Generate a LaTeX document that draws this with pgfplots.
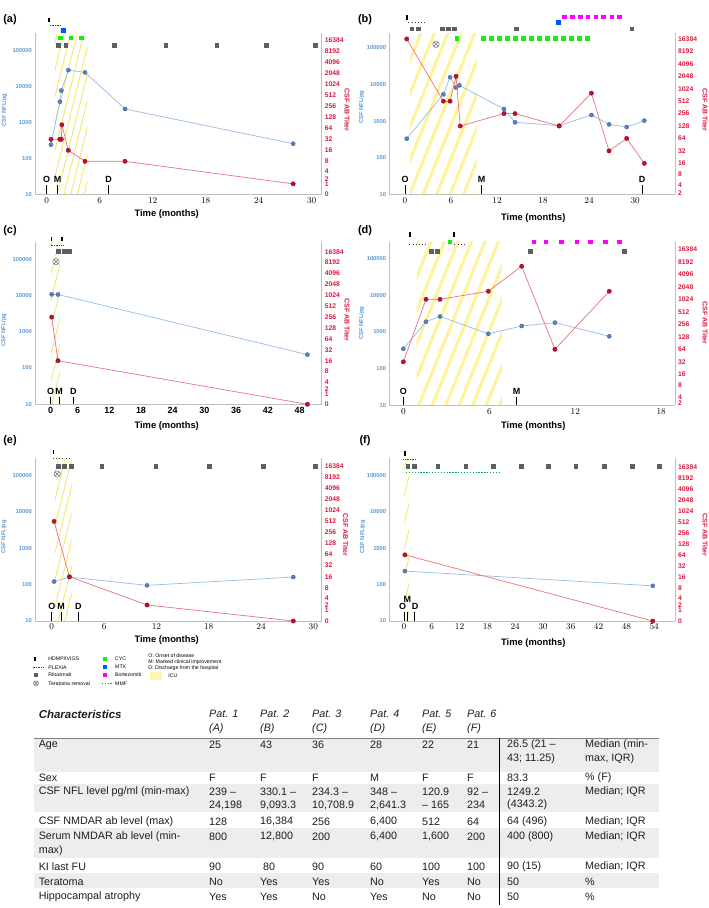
\documentclass[border=0pt]{standalone}
\usepackage{pgfplots}
\pgfplotsset{compat=1.18}
\usepackage{pgfplotstable}
\usepackage{fontspec}
\setmainfont{Liberation Sans}
\setsansfont{Liberation Sans}
\usetikzlibrary{patterns.meta}

\definecolor{nflblue}{HTML}{5B9BD5}
\definecolor{titred}{HTML}{E0193F}
\definecolor{blueline}{HTML}{95BDE4}
\definecolor{bluemark}{HTML}{5A80BE}
\definecolor{bluemarkedge}{HTML}{3B5E9A}
\definecolor{redline}{HTML}{E8727E}
\definecolor{redmark}{HTML}{C01030}
\definecolor{redmarkedge}{HTML}{85091F}
\definecolor{axgray}{HTML}{BFBFBF}
\definecolor{ritgray}{HTML}{5F5F5F}
\definecolor{cycgreen}{HTML}{11EE11}
\definecolor{mtxblue}{HTML}{0055FF}
\definecolor{bortmag}{HTML}{FF00FF}
\definecolor{mmfgreen}{HTML}{00A650}
\definecolor{plexgray}{HTML}{404040}
\definecolor{teragray}{HTML}{707070}
\definecolor{icuthinY}{HTML}{F2E34A}
\definecolor{icuthickY}{HTML}{FFF39A}
\definecolor{icuboxY}{HTML}{FFF4B0}
\definecolor{tabgray}{HTML}{EDEDED}
\definecolor{tabtext}{HTML}{1E1E1E}

\newcommand\fs[1]{\fontsize{#1}{#1}\selectfont}

\pgfplotsset{
 mybase/.style={scale only axis, clip=false, anchor=south west, major tick length=0pt, minor tick length=0pt},
 myov/.style={hide axis, y dir=reverse},
 mynfl/.style={ymin=10, axis x line*=bottom, axis y line*=left, axis line style={draw=axgray, line width=0.7bp, -},
   ytick={10,100,1000,10000,100000}, yticklabels={10,100,1000,10000,100000},
   yticklabel style={font=\fs{5.8}\bfseries, text=nflblue, inner sep=0pt, xshift=-3bp},
   xticklabel style={font=\fs{9}\bfseries, inner sep=0pt, yshift=-3bp}},
 mytit/.style={axis x line=none, axis y line*=right, axis line style={draw=axgray, line width=0.7bp, -},
   yticklabel style={font=\fs{6.8}\bfseries, text=titred, inner sep=0pt, xshift=3bp}},
 rtz/.style={ytick={0,0.95,1.42,2.07,3,4,5,6,7,8,9,10,11,12,13,14}, yticklabels={0,1,2,4,8,16,32,64,128,256,512,1024,2048,4096,8192,16384}},
 rtb/.style={ytick={1.64,2.26,3.14,4,5,6,7,8,9,10,11,12,13,14}, yticklabels={2,4,8,16,32,64,128,256,512,1024,2048,4096,8192,16384}},
 rtd/.style={ytick={1.68,2.21,3.15,4,5,6,7,8,9,10,11,12,13,14}, yticklabels={2,4,8,16,32,64,128,256,512,1024,2048,4096,8192,16384}},
 nflplot/.style={blueline, line width=0.7bp, mark=*, mark size=2.1bp, mark options={fill=bluemark, draw=bluemarkedge, line width=0.3bp}},
 titplot/.style={redline, line width=0.7bp, mark=*, mark size=2.2bp, mark options={fill=redmark, draw=redmarkedge, line width=0.3bp}},
 hdmp/.style={only marks, mark=|, mark size=2.2bp, mark options={line width=1.6bp, draw=black}},
 ritu/.style={only marks, mark=square*, mark size=1.9bp, mark options={fill=ritgray, draw=ritgray}},
 cyc/.style={only marks, mark=square*, mark size=1.9bp, mark options={fill=cycgreen, draw=cycgreen}},
 mtx/.style={only marks, mark=square*, mark size=1.9bp, mark options={fill=mtxblue, draw=mtxblue}},
 bort/.style={only marks, mark=square*, mark size=1.9bp, mark options={fill=bortmag, draw=bortmag}},
 plex/.style={no marks, line width=1bp, draw=plexgray, dash pattern=on 0.8bp off 0.9bp},
 plexs/.style={no marks, line width=1bp, draw=plexgray, dash pattern=on 1bp off 2.2bp},
 mmf/.style={no marks, line width=1.3bp, draw=mmfgreen, dash pattern=on 1.3bp off 1.6bp},
 tera/.style={only marks, mark=otimes*, mark size=3.2bp, mark options={fill=white, draw=teragray, line width=0.5bp}},
 omd/.style={no marks, black, line width=0.8bp},
 icuthin/.style={draw=none, pattern={Lines[angle=76,distance=6.5bp,line width=0.7bp]}, pattern color=icuthinY},
 icuthick/.style={draw=none, pattern={Lines[angle=68,distance=12.5bp,line width=3bp]}, pattern color=icuthickY},
 pa/.style={at={(35bp,-194.3bp)}, width=286.7bp, height=161bp, xmin=-1.32, xmax=31.13},
 pb/.style={at={(389.3bp,-194.3bp)}, width=285.7bp, height=161bp, xmin=-2.05, xmax=35.2},
 pc/.style={at={(35bp,-404.3bp)}, width=286.7bp, height=162.6bp, xmin=-2.06, xmax=52.2},
 pd/.style={at={(389.3bp,-405.3bp)}, width=285.7bp, height=163.6bp, xmin=-0.98, xmax=18.96},
 pe/.style={at={(35bp,-621bp)}, width=286.7bp, height=162.7bp, xmin=-1.92, xmax=30.96},
 pf/.style={at={(389.3bp,-621bp)}, width=285.7bp, height=162.7bp, xmin=-3.17, xmax=58.5},
}
\tikzset{omdtxt/.style={font=\fs{9}\bfseries, inner sep=0pt}}

% ---------------- data ----------------
\pgfplotstableread{
m v
0.49 239
1.50 3730
1.66 7560
2.45 28000
4.34 24198
8.87 2340
27.9 254
}\nflA
\pgfplotstableread{
m t
0.49 32
1.50 32
1.66 32
1.72 80
2.45 16
4.34 8
8.87 8
27.9 1
}\titA
\pgfplotstableread{
m v
0.22 330
5.00 5400
5.87 15800
6.65 8200
7.08 9500
12.9 2140
14.34 930
20.1 750
24.3 1470
26.6 815
28.9 690
31.2 1030
}\nflB
\pgfplotstableread{
m t
0.22 16384
5.00 512
5.87 512
6.65 2048
7.20 128
12.9 256
14.34 256
20.1 128
24.3 800
26.6 32
28.9 64
31.2 16
}\titB
\pgfplotstableread{
m v
1.1 10708.9
2.29 10600
49.5 234
}\nflC
\pgfplotstableread{
m t
1.1 256
2.29 16
49.5 0
}\titC
\pgfplotstableread{
m v
0 348
1.58 1900
2.56 2641
5.93 890
8.26 1450
10.58 1790
14.37 760
}\nflD
\pgfplotstableread{
m t
0 32
1.58 1024
2.56 1024
5.93 1600
8.26 6400
10.58 64
14.37 1600
}\titD
\pgfplotstableread{
m v
0.27 121
2.03 160
10.93 95
27.7 160
}\nflE
\pgfplotstableread{
m t
0.27 512
2.03 16
10.93 2
27.7 0
}\titE
\pgfplotstableread{
m v
0.2 234
53.7 92
}\nflF
\pgfplotstableread{
m t
0.2 64
53.7 0
}\titF

\begin{document}
\begin{tikzpicture}
\useasboundingbox (0,0) rectangle (709bp,-908bp);
\fill[white] (0,0) rectangle (709bp,-908bp);

% ================= PANEL A =================
\begin{axis}[mybase,myov,pa,ymin=33.3,ymax=194.3]
\addplot[icuthin] coordinates {(0.94,33.3) (4.6,33.3) (4.6,194.3) (0.94,194.3)} --cycle;
\addplot[hdmp] coordinates {(0.26,20)};
\addplot[plex] coordinates {(0.37,25.7) (1.58,25.7)};
\addplot[mtx] coordinates {(1.88,30)};
\addplot[cyc] coordinates {(1.51,37.7) (2.72,37.7) (3.88,37.7)};
\addplot[ritu] coordinates {(1.31,45.3) (2.15,45.3) (7.62,45.3) (13.48,45.3) (19.25,45.3) (24.84,45.3) (30.42,45.3)};
\addplot[omd] coordinates {(0,185) (0,194.3)};
\addplot[omd] coordinates {(1.25,185) (1.25,194.3)};
\addplot[omd] coordinates {(7,185) (7,194.3)};
\node[omdtxt] at (axis cs:0,179) {O};
\node[omdtxt] at (axis cs:1.25,179) {M};
\node[omdtxt] at (axis cs:7,179) {D};
\end{axis}
\begin{axis}[mybase,ymode=log,mynfl,pa,ymax=295000,xtick={0,6,...,30}]
\addplot[nflplot] table[x=m,y=v] {\nflA};
\end{axis}
\begin{axis}[mybase,mytit,pa,rtz,ymin=0,ymax=14.64]
\addplot[titplot] table[x=m,y expr={\thisrow{t}<0.5 ? 0 : (\thisrow{t}<3 ? 0.45+0.5*\thisrow{t} : ln(max(\thisrow{t},1))/ln(2))}] {\titA};
\end{axis}

% ================= PANEL B =================
\begin{axis}[mybase,myov,pb,ymin=33.3,ymax=194.3]
\addplot[icuthick] coordinates {(0.65,33.3) (9.35,33.3) (9.35,194.3) (0.65,194.3)} --cycle;
\addplot[hdmp] coordinates {(0.22,17.3)};
\addplot[plexs] coordinates {(0.43,22.3) (2.91,22.3)};
\addplot[ritu] coordinates {(0.87,28.7) (1.73,28.7) (4.86,28.7) (5.65,28.7) (6.43,28.7) (14.47,28.7) (29.56,28.7)};
\addplot[mtx] coordinates {(19.99,22.3)};
\addplot[bort] coordinates {(20.77,16.7) (21.81,16.7) (22.82,16.7) (23.82,16.7) (24.86,16.7) (25.85,16.7) (26.95,16.7) (27.94,16.7)};
\addplot[cyc] coordinates {(6.74,38.3) (10.21,38.3) (11.25,38.3) (12.29,38.3) (13.34,38.3) (14.38,38.3) (15.42,38.3) (16.47,38.3) (17.51,38.3) (18.55,38.3) (19.6,38.3) (20.64,38.3) (21.68,38.3) (22.72,38.3) (23.77,38.3)};
\addplot[tera] coordinates {(4.04,44.3)};
\addplot[omd] coordinates {(0,185) (0,194.3)};
\addplot[omd] coordinates {(10,185) (10,194.3)};
\addplot[omd] coordinates {(30.9,185) (30.9,194.3)};
\node[omdtxt] at (axis cs:0,179) {O};
\node[omdtxt] at (axis cs:10,179) {M};
\node[omdtxt] at (axis cs:30.9,179) {D};
\end{axis}
\begin{axis}[mybase,ymode=log,mynfl,pb,ymax=251000,xtick={0,6,...,30}]
\addplot[nflplot] table[x=m,y=v] {\nflB};
\end{axis}
\begin{axis}[mybase,mytit,pb,rtb,ymin=1.51,ymax=14.46]
\addplot[titplot] table[x=m,y expr={\thisrow{t}<0.5 ? 0 : (\thisrow{t}<3 ? 0.45+0.5*\thisrow{t} : ln(max(\thisrow{t},1))/ln(2))}] {\titB};
\end{axis}

% ================= PANEL C =================
\begin{axis}[mybase,myov,pc,ymin=241.7,ymax=404.3]
\addplot[icuthin] coordinates {(0.97,241.7) (2.67,241.7) (2.67,404.3) (0.97,404.3)} --cycle;
\addplot[hdmp] coordinates {(1.1,239) (3.1,239)};
\addplot[plex] coordinates {(0.9,245) (3.3,245)};
\addplot[ritu] coordinates {(2.35,251) (3.43,251) (4.43,251)};
\addplot[tera] coordinates {(1.91,261.7)};
\addplot[omd] coordinates {(0.9,396.7) (0.9,404.3)};
\addplot[omd] coordinates {(2.48,396.7) (2.48,404.3)};
\addplot[omd] coordinates {(5.19,396.7) (5.19,404.3)};
\node[omdtxt] at (axis cs:0.9,391.7) {O};
\node[omdtxt] at (axis cs:2.48,391.7) {M};
\node[omdtxt] at (axis cs:5.19,391.7) {D};
\end{axis}
\begin{axis}[mybase,ymode=log,mynfl,pc,ymax=302000,xtick={0.9,6,12,18,24,30,36,42,48},xticklabels={0,6,12,18,24,30,36,42,48}]
\addplot[nflplot] table[x=m,y=v] {\nflC};
\end{axis}
\begin{axis}[mybase,mytit,pc,rtz,ymin=0,ymax=14.92]
\addplot[titplot] table[x=m,y expr={\thisrow{t}<0.5 ? 0 : (\thisrow{t}<3 ? 0.45+0.5*\thisrow{t} : ln(max(\thisrow{t},1))/ln(2))}] {\titC};
\end{axis}

% ================= PANEL D =================
\begin{axis}[mybase,myov,pd,ymin=241.7,ymax=405.3]
\addplot[icuthick] coordinates {(0.93,241.7) (6.87,241.7) (6.87,405.3) (0.93,405.3)} --cycle;
\addplot[hdmp] coordinates {(0.47,234.5) (3.52,234.5)};
\addplot[plexs] coordinates {(0.42,244) (1.74,244)};
\addplot[plexs] coordinates {(3.56,244) (4.45,244)};
\addplot[cyc] coordinates {(3.24,241.7)};
\addplot[ritu] coordinates {(1.95,251) (2.39,251) (8.88,251) (15.4,251)};
\addplot[bort] coordinates {(9.1,241.7) (9.94,241.7) (11.03,241.7) (12.1,241.7) (13.03,241.7) (14.08,241.7) (15.07,241.7)};
\addplot[omd] coordinates {(0,396.7) (0,405.3)};
\addplot[omd] coordinates {(7.9,396.7) (7.9,405.3)};
\node[omdtxt] at (axis cs:0,391.7) {O};
\node[omdtxt] at (axis cs:7.9,391.7) {M};
\end{axis}
\begin{axis}[mybase,ymode=log,mynfl,pd,ymax=288000,xtick={0,6,...,18}]
\addplot[nflplot] table[x=m,y=v] {\nflD};
\end{axis}
\begin{axis}[mybase,mytit,pd,rtd,ymin=1.52,ymax=14.61]
\addplot[titplot] table[x=m,y expr={\thisrow{t}<0.5 ? 0 : (\thisrow{t}<3 ? 0.45+0.5*\thisrow{t} : ln(max(\thisrow{t},1))/ln(2))}] {\titD};
\end{axis}

% ================= PANEL E =================
\begin{axis}[mybase,myov,pe,ymin=458.3,ymax=621]
\addplot[icuthin] coordinates {(0.38,458.3) (2.29,458.3) (2.29,621) (0.38,621)} --cycle;
\addplot[hdmp] coordinates {(0.18,451.7)};
\addplot[plexs] coordinates {(0.11,458.3) (2.1,458.3)};
\addplot[ritu] coordinates {(0.76,466) (1.44,466) (2.21,466) (5.73,466) (11.93,466) (18.04,466) (24.27,466) (30.2,466)};
\addplot[tera] coordinates {(0.64,474)};
\addplot[omd] coordinates {(0,611.7) (0,621)};
\addplot[omd] coordinates {(1.07,611.7) (1.07,621)};
\addplot[omd] coordinates {(3.05,611.7) (3.05,621)};
\node[omdtxt] at (axis cs:0,606.7) {O};
\node[omdtxt] at (axis cs:1.07,606.7) {M};
\node[omdtxt] at (axis cs:3.05,606.7) {D};
\end{axis}
\begin{axis}[mybase,ymode=log,mynfl,pe,ymax=288000,xtick={0,6,...,30}]
\addplot[nflplot] table[x=m,y=v] {\nflE};
\end{axis}
\begin{axis}[mybase,mytit,pe,rtz,ymin=0,ymax=14.7]
\addplot[titplot] table[x=m,y expr={\thisrow{t}<0.5 ? 0 : (\thisrow{t}<3 ? 0.45+0.5*\thisrow{t} : ln(max(\thisrow{t},1))/ln(2))}] {\titE};
\end{axis}

% ================= PANEL F =================
\begin{axis}[mybase,myov,pf,ymin=458.3,ymax=621]
\addplot[icuthin] coordinates {(0.06,458.3) (1.08,458.3) (1.08,621) (0.06,621)} --cycle;
\addplot[hdmp] coordinates {(0.22,453.3)};
\addplot[plex] coordinates {(-0.15,459.3) (2.74,459.3)};
\addplot[ritu] coordinates {(0.8,466) (2.22,466) (7.28,466) (13.33,466) (19.29,466) (25.27,466) (31.17,466) (37.08,466) (43.2,466) (49.18,466) (55.08,466)};
\addplot[mmf] coordinates {(0.43,472.3) (20.9,472.3)};
\addplot[omd] coordinates {(0,611.7) (0,621)};
\addplot[omd] coordinates {(0.7,611.7) (0.7,621)};
\addplot[omd] coordinates {(2.2,611.7) (2.2,621)};
\node[omdtxt] at (axis cs:-0.28,606.7) {O};
\node[omdtxt] at (axis cs:0.71,599.3) {M};
\node[omdtxt] at (axis cs:2.38,606.7) {D};
\end{axis}
\begin{axis}[mybase,ymode=log,mynfl,pf,ymax=288000,xtick={0,6,...,54}]
\addplot[nflplot] table[x=m,y=v] {\nflF};
\end{axis}
\begin{axis}[mybase,mytit,pf,rtz,ymin=0,ymax=14.76]
\addplot[titplot] table[x=m,y expr={\thisrow{t}<0.5 ? 0 : (\thisrow{t}<3 ? 0.45+0.5*\thisrow{t} : ln(max(\thisrow{t},1))/ln(2))}] {\titF};
\end{axis}

% ================= LEGEND (pixel axis) =================
\begin{axis}[mybase,myov, at={(0bp,-908bp)}, width=709bp, height=908bp, xmin=0, xmax=709, ymin=0, ymax=908]
\addplot[hdmp, mark size=1.8bp] coordinates {(35,659)};
\addplot[plex] coordinates {(32.5,667.7) (43.3,667.7)};
\addplot[ritu, mark size=1.6bp] coordinates {(36,675)};
\addplot[tera, mark size=2.5bp] coordinates {(36,683.3)};
\addplot[cyc, mark size=1.6bp] coordinates {(104.3,659)};
\addplot[mtx, mark size=1.6bp] coordinates {(104.3,667)};
\addplot[bort, mark size=1.6bp] coordinates {(104.3,675)};
\addplot[mmf] coordinates {(101.7,683.3) (113.3,683.3)};
\addplot[fill=icuboxY, draw=none] coordinates {(150,672.3) (161.7,672.3) (161.7,680) (150,680)} --cycle;
\end{axis}

% ================= TEXT =================
\begin{scope}[x=1bp,y=-1bp]
\foreach \t/\x/\y in {(a)/10/20,(b)/365/20,(c)/10/231,(d)/365/231,(e)/10/441,(f)/365/441}
  \node[font=\fs{11}\bfseries, inner sep=0pt] at (\x,\y) {\t};
\foreach \x/\y in {4.5/110, 361.7/107, 4/330, 361.7/323, 4/536.7, 362.7/536.7}
  \node[rotate=90, font=\fs{5.8}\bfseries, text=nflblue, inner sep=0pt] at (\x,\y) {CSF NFL/pg};
\foreach \x/\y in {347/110, 705/110, 347/320, 705/323, 345.7/535, 705/535}
  \node[rotate=-90, font=\fs{7}\bfseries, text=titred, inner sep=0pt] at (\x,\y) {CSF AB Titer};
\foreach \x/\y in {166.7/214, 533.3/218, 166.7/426, 533.3/426, 166.7/640, 533.3/642.7}
  \node[font=\fs{9.4}\bfseries, inner sep=0pt] at (\x,\y) {Time (months)};

\begin{scope}[every node/.style={font=\fs{5.2}, anchor=west, inner sep=0pt}]
\node at (48.3,659) {HDMP/IVIGS};
\node at (48.3,667.7) {PLEXIA};
\node at (48.3,675) {Rituximab};
\node at (48.3,683.3) {Teratoma removal};
\node at (115,659) {CYC};
\node at (115,667) {MTX};
\node at (115,675) {Bortezomib};
\node at (115,683.3) {MMF};
\node at (148.3,656) {O: Onset of disease};
\node at (148.3,662.3) {M: Marked clinical improvement};
\node at (148.3,668.3) {D: Discharge from the hospital};
\node at (168.3,675.7) {ICU};
\end{scope}

\fill[tabgray] (34,738.3) rectangle (659,771.7);
\fill[tabgray] (34,784.3) rectangle (659,812.3);
\fill[tabgray] (34,828.3) rectangle (659,858.3);
\fill[tabgray] (34,873.3) rectangle (659,888.3);
\draw[gray, line width=0.6bp] (34,738.3) -- (659,738.3);
\draw[black, line width=1bp] (499,738.3) -- (499,905);
\begin{scope}[every node/.style={font=\fs{10.8}, text=tabtext, anchor=west, inner sep=0pt}]
\node[font=\fs{11.5}\bfseries\itshape] at (38.6,714) {Characteristics};
\foreach \x/\a/\b in {209/1/A, 260/2/B, 312/3/C, 370/4/D, 422/5/E, 467/6/F}{
  \node[font=\fs{10.8}\itshape] at (\x,714) {Pat. \a};
  \node[font=\fs{10.8}\itshape] at (\x,729) {(\b)};
}
\node at (38.6,745) {Age};
\foreach \x/\v in {209/25, 260/43, 312/36, 370/28, 422/22, 467/21} \node at (\x,745) {\v};
\node at (507,745) {26.5 (21 –};
\node at (507,758.3) {43; 11.25)};
\node at (585,745) {Median (min-};
\node at (585,758.3) {max, IQR)};
\node at (38.6,777.7) {Sex};
\foreach \x/\v in {209/F, 260/F, 312/F, 370/M, 422/F, 467/F} \node at (\x,777.7) {\v};
\node at (507,777.7) {83.3};
\node at (585,777.7) {\% (F)};
\node at (38.6,791.7) {CSF NFL level pg/ml (min-max)};
\foreach \x/\v/\w in {209/239 –/{24,198}, 260/330.1 –/{9,093.3}, 312/234.3 –/{10,708.9}, 370/348 –/{2,641.3}, 422/120.9/– 165, 467/92 –/234}{
  \node at (\x,791.7) {\v};
  \node at (\x,805) {\w};
}
\node at (507,791.7) {1249.2};
\node at (507,805) {(4343.2)};
\node at (585,791.7) {Median; IQR};
\node at (38.6,821.7) {CSF NMDAR ab level (max)};
\foreach \x/\v in {209/128, 260/{16,384}, 312/256, 370/{6,400}, 422/512, 467/64} \node at (\x,821.7) {\v};
\node at (507,821.7) {64 (496)};
\node at (585,821.7) {Median; IQR};
\node at (38.6,836.7) {Serum NMDAR ab level (min-};
\node at (38.6,851) {max)};
\foreach \x/\v in {209/800, 260/{12,800}, 312/200, 370/{6,400}, 422/{1,600}, 467/200} \node at (\x,836.7) {\v};
\node at (507,836.7) {400 (800)};
\node at (585,836.7) {Median; IQR};
\node at (38.6,866.7) {KI last FU};
\foreach \x/\v in {209/90, 263/80, 312/90, 370/60, 422/100, 467/100} \node at (\x,866.7) {\v};
\node at (507,866.7) {90 (15)};
\node at (585,866.7) {Median; IQR};
\node at (38.6,881.7) {Teratoma};
\foreach \x/\v in {209/No, 260/Yes, 312/Yes, 370/No, 422/Yes, 467/No} \node at (\x,881.7) {\v};
\node at (507,881.7) {50};
\node at (585,881.7) {\%};
\node at (38.6,896.7) {Hippocampal atrophy};
\foreach \x/\v in {209/Yes, 260/Yes, 312/No, 370/Yes, 422/No, 467/No} \node at (\x,896.7) {\v};
\node at (507,896.7) {50};
\node at (585,896.7) {\%};
\end{scope}
\end{scope}
\end{tikzpicture}
\end{document}
